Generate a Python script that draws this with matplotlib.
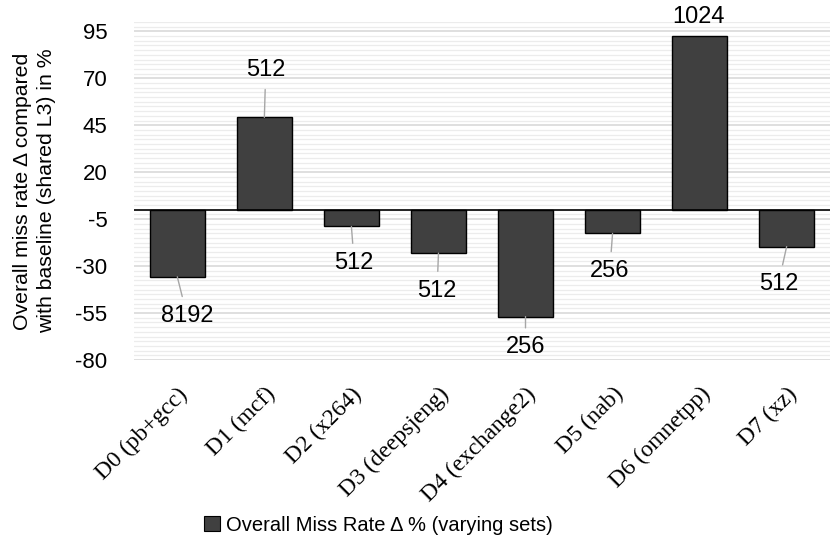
import numpy as np
import matplotlib.pyplot as plt
from matplotlib.patches import Patch
from matplotlib.ticker import MultipleLocator

plt.rcParams["axes.unicode_minus"] = False

categories = ["D0 (pb+gcc)", "D1 (mcf)", "D2 (x264)", "D3 (deepsjeng)",
              "D4 (exchange2)", "D5 (nab)", "D6 (omnetpp)", "D7 (xz)"]
miss_delta = [-35.7, 49.2, -8.9, -23.1, -56.9, -12.6, 92.8, -19.6]
set_counts = ["8192", "512", "512", "512", "256", "256", "1024", "512"]

# label offsets in points (dx, dy) relative to bar end
label_offsets = [(7, -28), (1, 34), (2, -26), (-1, -27), (0, -22), (-2, -27), (-1, 13), (-6, -27)]

bar_color = "#404040"
sans = ["Liberation Sans", "DejaVu Sans"]
serif = ["Liberation Serif", "DejaVu Serif"]

fig = plt.figure(figsize=(8.31, 5.43), dpi=100)
ax = fig.add_axes([0.161, 0.337, 0.838, 0.6225])

x = np.arange(len(categories))
ax.bar(x, miss_delta, width=0.63, color=bar_color, edgecolor="black", linewidth=1, zorder=3)
ax.axhline(0, color="black", linewidth=1.2, zorder=4)

ax.set_ylim(-80, 100)
ax.set_xlim(-0.5, len(categories) - 0.5)
ax.set_yticks(np.arange(-80, 96, 25))
ax.yaxis.set_minor_locator(MultipleLocator(2.5))
ax.grid(which="major", axis="y", color="#d9d9d9", linewidth=1.2, zorder=0)
ax.grid(which="minor", axis="y", color="#ececec", linewidth=0.9, zorder=0)
ax.tick_params(axis="both", which="both", length=0)
for s in ax.spines.values():
    s.set_visible(False)

for lbl in ax.get_yticklabels():
    lbl.set_fontfamily(sans)
    lbl.set_fontsize(16)
ax.tick_params(axis="y", pad=19)

ax.set_xticks(x)
ax.set_xticklabels(categories, rotation=45, ha="right", rotation_mode="anchor",
                   fontfamily=serif, fontsize=17)
ax.tick_params(axis="x", pad=17)

ax.set_ylabel("Overall miss rate Δ compared\nwith baseline (shared L3) in %",
              fontfamily=sans, fontsize=15.3, labelpad=14, linespacing=1.3)

for i, (v, txt, off) in enumerate(zip(miss_delta, set_counts, label_offsets)):
    dist = abs(off[1])
    props = dict(arrowstyle="-", color="#a6a6a6", lw=1, shrinkA=4, shrinkB=0) if dist > 20 else None
    ax.annotate(txt, xy=(i, v), xytext=off, textcoords="offset points",
                ha="center", va="center", fontfamily=sans, fontsize=17,
                arrowprops=props, zorder=5)

handle = Patch(facecolor=bar_color, edgecolor="black", linewidth=0.8)
fig.legend([handle], ["Overall Miss Rate Δ % (varying sets)"], loc="lower center",
           bbox_to_anchor=(0.455, -0.018), frameon=False,
           prop={"family": sans, "size": 14.5}, handlelength=0.8, handleheight=0.8,
           handletextpad=0.3)

fig.savefig("out.png", dpi=100)
